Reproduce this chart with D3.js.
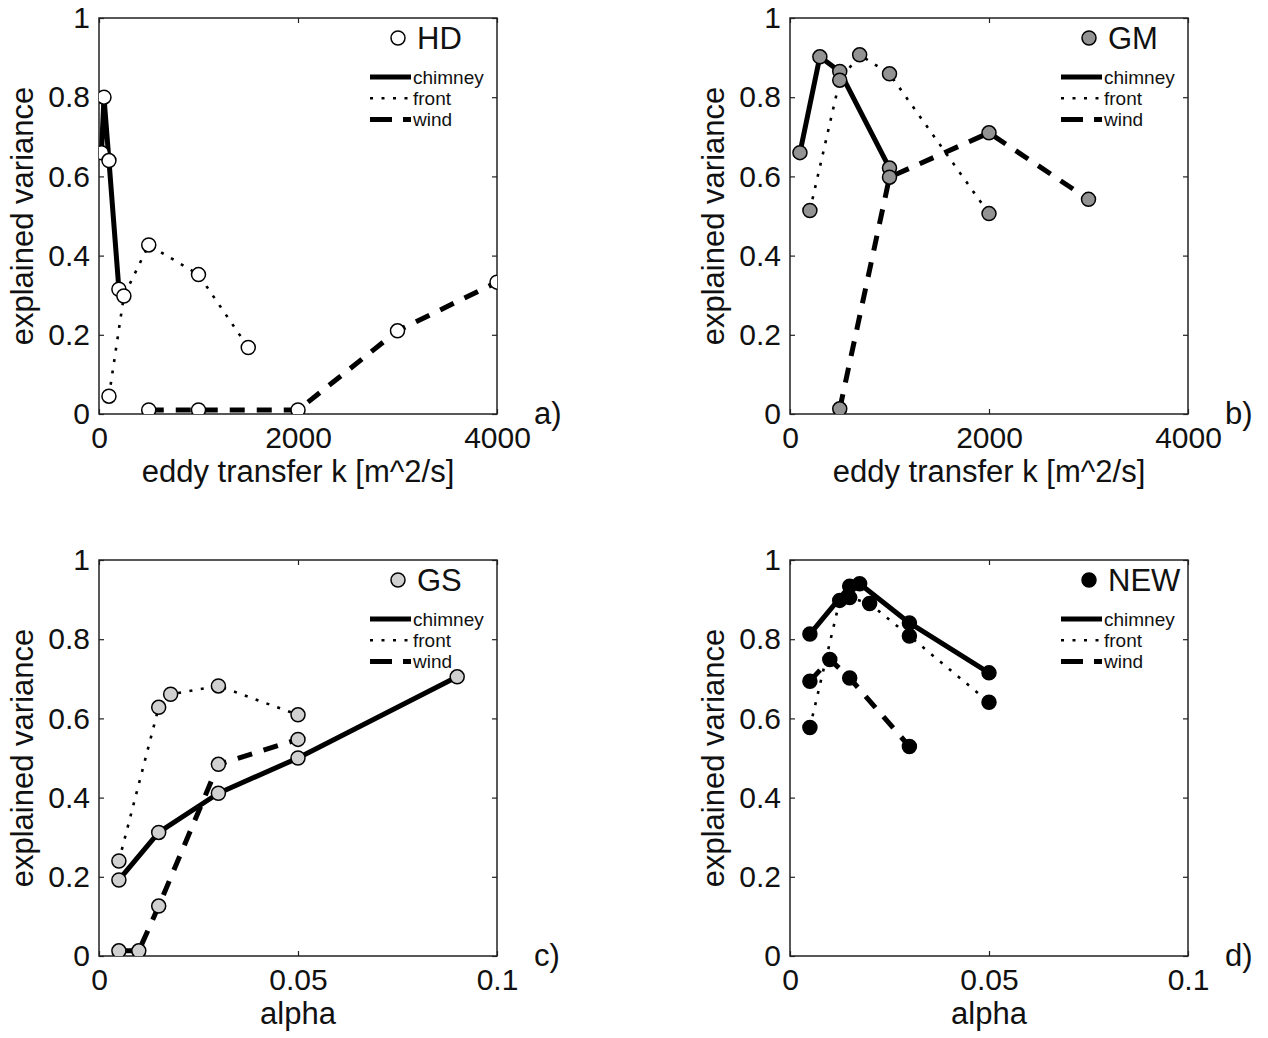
<!DOCTYPE html>
<meta charset="utf-8">
<style>
body { margin: 0; background: #fff; }
text { font-family: "Liberation Sans", Arial, Helvetica, sans-serif; fill: #111; }
.frame { fill: none; stroke: #222; stroke-width: 1.5px; }
.tick line { stroke: #222; stroke-width: 1.2px; }
.tick text { font-size: 30px; }
.axis-label { font-size: 31px; }
.chimney { fill: none; stroke: #000; stroke-width: 5px; stroke-linejoin: round; }
.front { fill: none; stroke: #000; stroke-width: 2.6px; stroke-dasharray: 3,8.5; }
.wind { fill: none; stroke: #000; stroke-width: 5px; stroke-dasharray: 15,12; }
.mark { stroke: #000; stroke-width: 1.5px; }
.leg-line text { font-size: 19px; }
.leg-line .wind { stroke-dasharray: 22,11; }
</style>
<body>
<script src="https://d3js.org/d3.v7.min.js"></script>
<script>

// ---- data: [x, explained variance] ----

// a) HD, x = eddy transfer k [m^2/s]
var hdChimney = [[25, 0.66], [50, 0.80], [100, 0.64], [200, 0.315]];
var hdFront   = [[100, 0.045], [250, 0.298], [500, 0.427], [1000, 0.352], [1500, 0.168]];
var hdWind    = [[500, 0.01], [1000, 0.01], [2000, 0.01], [3000, 0.21], [4000, 0.333]];

// b) GM
var gmChimney = [[100, 0.66], [300, 0.902], [500, 0.865], [1000, 0.621]];
var gmFront   = [[200, 0.514], [500, 0.843], [700, 0.907], [1000, 0.859], [2000, 0.506]];
var gmWind    = [[500, 0.013], [1000, 0.598], [2000, 0.71], [3000, 0.542]];

// c) GS, x = alpha
var gsChimney = [[0.005, 0.192], [0.015, 0.312], [0.03, 0.411], [0.05, 0.50], [0.09, 0.705]];
var gsFront   = [[0.005, 0.24], [0.015, 0.628], [0.018, 0.661], [0.03, 0.682], [0.05, 0.609]];
var gsWind    = [[0.005, 0.013], [0.01, 0.013], [0.015, 0.126], [0.03, 0.484], [0.05, 0.547]];

// d) NEW
var newChimney = [[0.005, 0.813], [0.015, 0.934], [0.0175, 0.94], [0.03, 0.841], [0.05, 0.715]];
var newFront   = [[0.005, 0.577], [0.0125, 0.898], [0.015, 0.905], [0.02, 0.89], [0.03, 0.808], [0.05, 0.641]];
var newWind    = [[0.005, 0.694], [0.01, 0.749], [0.015, 0.702], [0.03, 0.529]];

var lineNames = ["chimney", "front", "wind"];
var yTicks = [0, 0.2, 0.4, 0.6, 0.8, 1];
var kTicks = [0, 2000, 4000];
var alphaTicks = [0, 0.05, 0.1];

// ---- layout ----
var plotW = 398, plotH = 396;

var panels = [
    {tag: "a)", name: "HD",  fill: "#fff",    left: 99,  top: 18,  xMax: 4000, xTicks: kTicks,
     xLabel: "eddy transfer k [m^2/s]", series: [hdChimney, hdFront, hdWind]},
    {tag: "b)", name: "GM",  fill: "#939393", left: 790, top: 18,  xMax: 4000, xTicks: kTicks,
     xLabel: "eddy transfer k [m^2/s]", series: [gmChimney, gmFront, gmWind]},
    {tag: "c)", name: "GS",  fill: "#d0d0d0", left: 99,  top: 560, xMax: 0.1,  xTicks: alphaTicks,
     xLabel: "alpha", series: [gsChimney, gsFront, gsWind]},
    {tag: "d)", name: "NEW", fill: "#000",    left: 790, top: 560, xMax: 0.1,  xTicks: alphaTicks,
     xLabel: "alpha", series: [newChimney, newFront, newWind]}
];

var svg = d3.select("body").append("svg")
    .attr("width", 1268)
    .attr("height", 1038);

var fmt = d3.format("~g");

panels.forEach(function(p, i) {
    var x = d3.scaleLinear().domain([0, p.xMax]).range([0, plotW]);
    var y = d3.scaleLinear().domain([0, 1]).range([plotH, 0]);

    var g = svg.append("g")
        .attr("transform", "translate(" + p.left + "," + p.top + ")");

    g.append("clipPath").attr("id", "clip" + i)
      .append("rect").attr("width", plotW).attr("height", plotH);

    // axes, ticks pointing inwards like matlab
    g.append("g")
        .attr("transform", "translate(0," + plotH + ")")
        .call(d3.axisBottom(x).tickValues(p.xTicks).tickFormat(fmt)
            .tickSizeInner(-5).tickSizeOuter(0).tickPadding(13));
    g.append("g")
        .call(d3.axisLeft(y).tickValues(yTicks).tickFormat(fmt)
            .tickSizeInner(-5).tickSizeOuter(0).tickPadding(9));
    g.append("g")
        .call(d3.axisTop(x).tickValues(p.xTicks).tickFormat("")
            .tickSizeInner(-5).tickSizeOuter(0));
    g.append("g")
        .attr("transform", "translate(" + plotW + ",0)")
        .call(d3.axisRight(y).tickValues(yTicks).tickFormat("")
            .tickSizeInner(-5).tickSizeOuter(0));
    g.selectAll(".domain").remove();

    g.append("rect").attr("class", "frame")
        .attr("width", plotW).attr("height", plotH);

    // axis labels
    g.append("text").attr("class", "axis-label")
        .attr("text-anchor", "middle")
        .attr("transform", "translate(-66," + (plotH / 2) + ") rotate(-90)")
        .text("explained variance");
    g.append("text").attr("class", "axis-label")
        .attr("text-anchor", "middle")
        .attr("x", plotW / 2).attr("y", plotH + 68)
        .text(p.xLabel);
    g.append("text").attr("class", "axis-label")
        .attr("x", plotW + 37).attr("y", plotH + 10)
        .text(p.tag);

    // lines then markers
    var line = d3.line()
        .x(function(d) { return x(d[0]); })
        .y(function(d) { return y(d[1]); });

    var data = g.append("g").attr("clip-path", "url(#clip" + i + ")");

    p.series.forEach(function(s, j) {
        data.append("path")
            .datum(s)
            .attr("class", lineNames[j])
            .attr("d", line);
    });
    p.series.forEach(function(s) {
        data.selectAll(null)
            .data(s)
            .enter().append("circle")
            .attr("class", "mark")
            .attr("cx", function(d) { return x(d[0]); })
            .attr("cy", function(d) { return y(d[1]); })
            .attr("r", 7)
            .style("fill", p.fill);
    });

    // legend
    g.append("circle").attr("class", "mark")
        .attr("cx", 299).attr("cy", 20).attr("r", 7)
        .style("fill", p.fill);
    g.append("text").attr("class", "axis-label")
        .attr("x", 318).attr("y", 31)
        .text(p.name);

    var leg = g.append("g").attr("class", "leg-line");
    lineNames.forEach(function(n, j) {
        var ly = 59 + j * 21.3;
        leg.append("line")
            .attr("class", n)
            .attr("x1", 271).attr("x2", 312)
            .attr("y1", ly).attr("y2", ly);
        leg.append("text")
            .attr("x", 314).attr("y", ly + 6.5)
            .text(n);
    });
});

</script>
</body>
